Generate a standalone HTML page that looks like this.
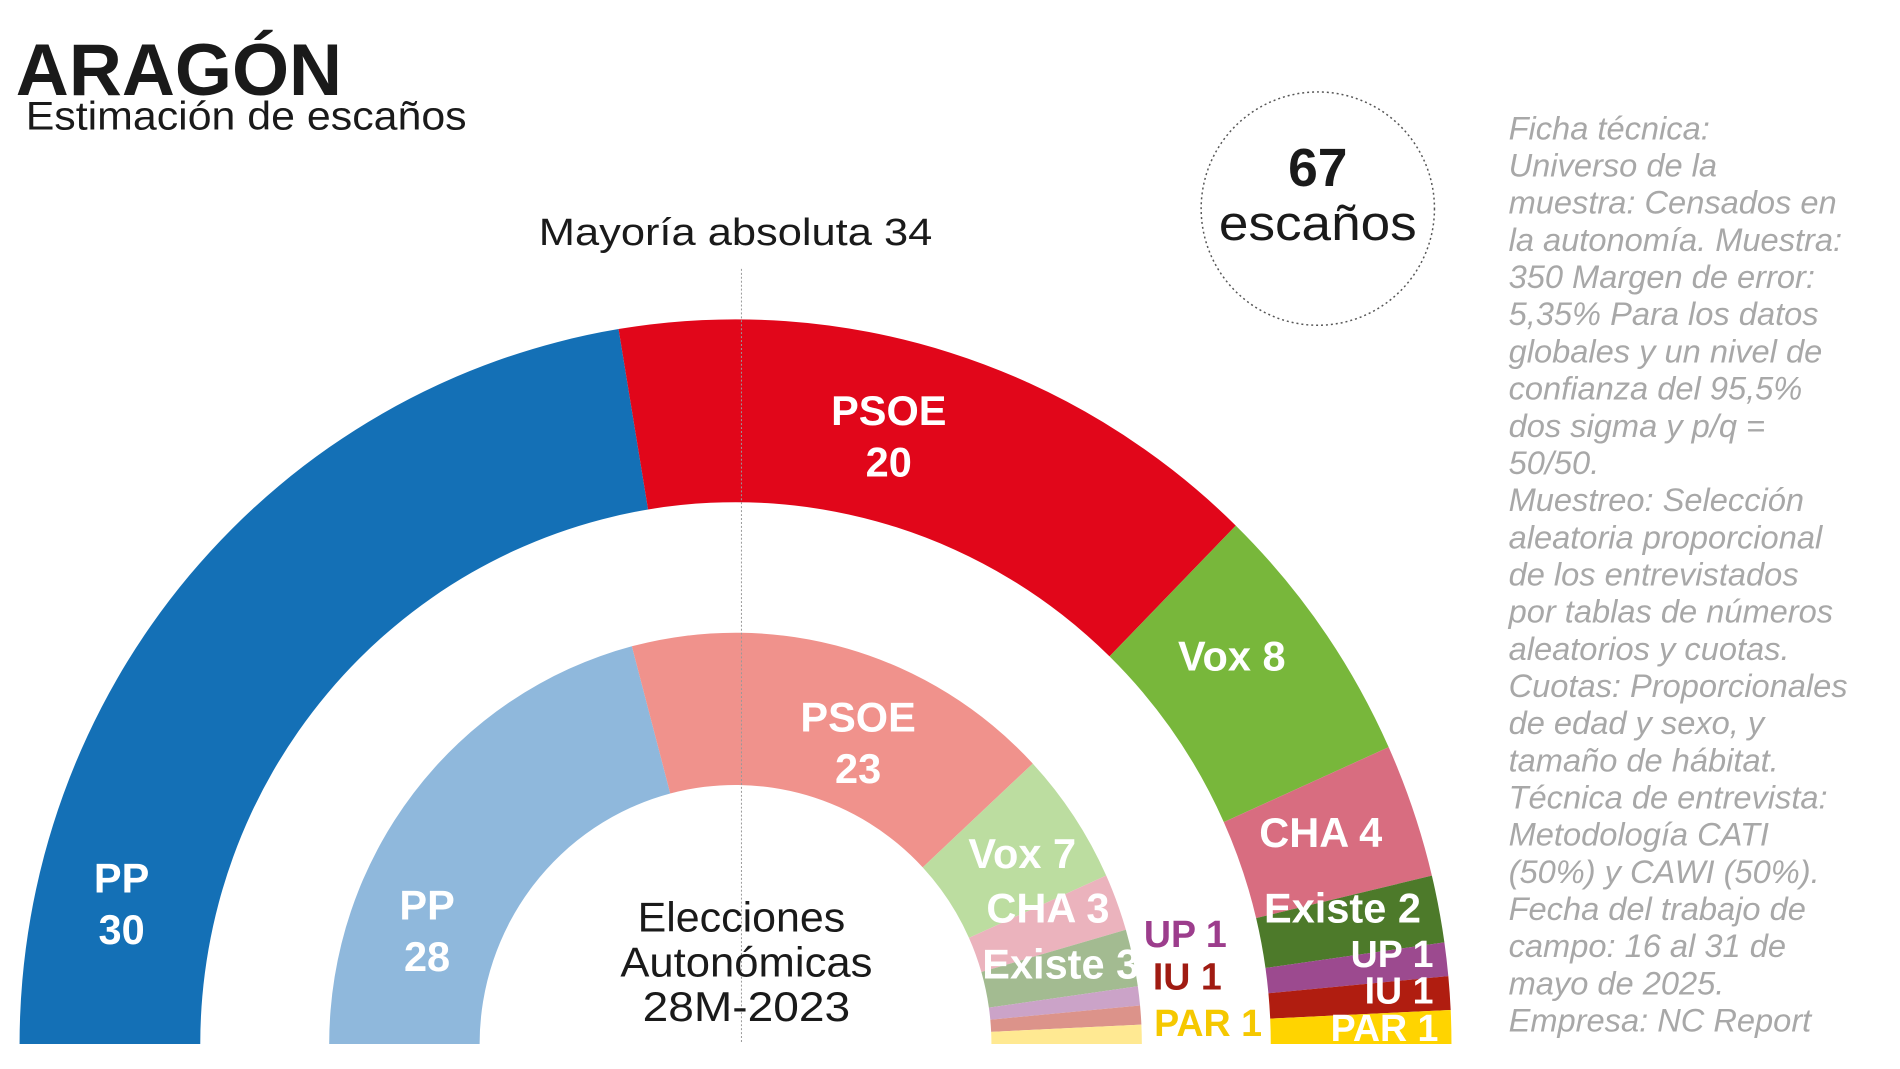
<!DOCTYPE html>
<html><head><meta charset="utf-8"><style>
html,body{margin:0;padding:0;background:#fff;}
svg{display:block;font-family:"Liberation Sans",sans-serif;}
</style></head><body>
<svg id="chart" width="1900" height="1069" viewBox="0 0 1900 1069" xmlns="http://www.w3.org/2000/svg">
<g transform="scale(0.9886)">
<text x="16" y="96" font-size="74" font-weight="bold" fill="#1a1a1a" textLength="330" lengthAdjust="spacingAndGlyphs">ARAGÓN</text>
<text x="26" y="131" font-size="40" fill="#1a1a1a" textLength="446" lengthAdjust="spacingAndGlyphs">Estimación de escaños</text>
<g transform="translate(-6,0) translate(750,0) scale(0.988,1) translate(-750,0)"><g id="arcs"></g></g>
<g id="labels"></g>
<line x1="750" y1="272" x2="750" y2="1054" stroke="#999" stroke-width="1" stroke-dasharray="2,2"/>
<text x="744" y="248" font-size="38" fill="#1a1a1a" text-anchor="middle" textLength="398" lengthAdjust="spacingAndGlyphs">Mayoría absoluta 34</text>
<circle cx="1333" cy="211" r="118" fill="none" stroke="#555" stroke-width="1.5" stroke-dasharray="2,3"/>
<text x="1333" y="188" font-size="54" font-weight="bold" fill="#1a1a1a" text-anchor="middle">67</text>
<text x="1333" y="243" font-size="50" fill="#1a1a1a" text-anchor="middle" textLength="200" lengthAdjust="spacingAndGlyphs">escaños</text>
<g font-size="42" fill="#1a1a1a" text-anchor="middle">
<text x="750" y="942" textLength="210" lengthAdjust="spacingAndGlyphs">Elecciones</text>
<text x="755" y="988" textLength="255" lengthAdjust="spacingAndGlyphs">Autonómicas</text>
<text x="755" y="1033" textLength="210" lengthAdjust="spacingAndGlyphs">28M-2023</text>
</g>
<g id="notes" font-size="33" font-style="italic" fill="#a8a8a8"></g>
</g>
</svg>
<script>
const parties = ["PP","PSOE","Vox","CHA","Existe","UP","IU","PAR"];
const seats2025 = [30,20,8,4,2,1,1,1];
const seats2023 = [28,23,7,3,3,1,1,1];
const colorsOuter = ["#1470b6","#e1061a","#78b73b","#d86d80","#4d7a2a","#9c4a8f","#b01d10","#ffd400"];
const colorsInner = ["#8fb8dc","#f0928c","#bcdda0","#ebb3bd","#a3bb91","#cba3c8","#dc938a","#ffe992"];
const noteLines = ["Ficha técnica:","Universo de la","muestra: Censados en","la autonomía. Muestra:","350 Margen de error:","5,35% Para los datos","globales y un nivel de","confianza del 95,5%","dos sigma y p/q =","50/50.","Muestreo: Selección","aleatoria proporcional","de los entrevistados","por tablas de números","aleatorios y cuotas.","Cuotas: Proporcionales","de edad y sexo, y","tamaño de hábitat.","Técnica de entrevista:","Metodología CATI","(50%) y CAWI (50%).","Fecha del trabajo de","campo: 16 al 31 de","mayo de 2025.","Empresa: NC Report"];

const NS="http://www.w3.org/2000/svg";
const cx=750, cy=1056;
function pt(r,a){return [cx - r*Math.cos(a), cy - r*Math.sin(a)];}
function drawRing(vals, colors, r0, r1, name){
  const total = vals.reduce((a,b)=>a+b,0);
  let acc=0;
  const g=document.getElementById('arcs');
  vals.forEach((v,i)=>{
    const a0=acc/total*Math.PI, a1=(acc+v)/total*Math.PI; acc+=v;
    const p0=pt(r1,a0),p1=pt(r1,a1),p2=pt(r0,a1),p3=pt(r0,a0);
    const large=(a1-a0)>Math.PI?1:0;
    const d=`M${p0[0]},${p0[1]} A${r1},${r1} 0 ${large} 1 ${p1[0]},${p1[1]} L${p2[0]},${p2[1]} A${r0},${r0} 0 ${large} 0 ${p3[0]},${p3[1]} Z`;
    const path=document.createElementNS(NS,'path');
    path.setAttribute('d',d);
    path.setAttribute('fill',colors[i]);
    
    
    g.appendChild(path);
  });
}
drawRing(seats2025, colorsOuter, 548, 733, 'seats-2025');
drawRing(seats2023, colorsInner, 262, 416, 'seats-2023');

const lg=document.getElementById('labels');
function label(lines,x,y,fill,anchor,name,size){
  lines.forEach((t,k)=>{
    const e=document.createElementNS(NS,'text');
    e.setAttribute('x',x); e.setAttribute('y',y+k*52);
    e.setAttribute('font-size',size||42); e.setAttribute('font-weight','bold');
    e.setAttribute('fill',fill); e.setAttribute('text-anchor',anchor||'middle');
    e.textContent=t;
    
    
    lg.appendChild(e);
  });
}
label(["PP",String(seats2025[0])],123,903,"#fff","middle","label-pp-2025");
label(["PSOE",String(seats2025[1])],899,430,"#fff","middle","label-psoe-2025");
label(["Vox "+seats2025[2]],1246,678,"#fff","middle","label-vox-2025");
label(["CHA "+seats2025[3]],1336,857,"#fff","middle","label-cha-2025");
label(["Existe "+seats2025[4]],1358,933,"#fff","middle","label-existe-2025");
label(["UP "+seats2025[5]],1450,978,"#fff","end","label-up-2025",38);
label(["IU "+seats2025[6]],1450,1015,"#fff","end","label-iu-2025",38);
label(["PAR "+seats2025[7]],1455,1053,"#fff","end","label-par-2025",38);
label(["PP",String(seats2023[0])],432,930,"#fff","middle","label-pp-2023");
label(["PSOE",String(seats2023[1])],868,740,"#fff","middle","label-psoe-2023");
label(["Vox "+seats2023[2]],1034,878,"#fff","middle","label-vox-2023");
label(["CHA "+seats2023[3]],1060,933,"#fff","middle","label-cha-2023");
label(["Existe "+seats2023[4]],1073,990,"#fff","middle","label-existe-2023");
label(["UP "+seats2023[5]],1199,958,"#9c3d8c","middle","label-up-2023",38);
label(["IU "+seats2023[6]],1201,1001,"#a01b12","middle","label-iu-2023",38);
label(["PAR "+seats2023[7]],1222,1048,"#f5c800","middle","label-par-2023",38);

const ng=document.getElementById('notes');
noteLines.forEach((t,i)=>{
  const e=document.createElementNS(NS,'text');
  e.setAttribute('x',1526); e.setAttribute('y',141+i*37.6);
  e.textContent=t;
  
  
  ng.appendChild(e);
});
</script>
</body></html>
